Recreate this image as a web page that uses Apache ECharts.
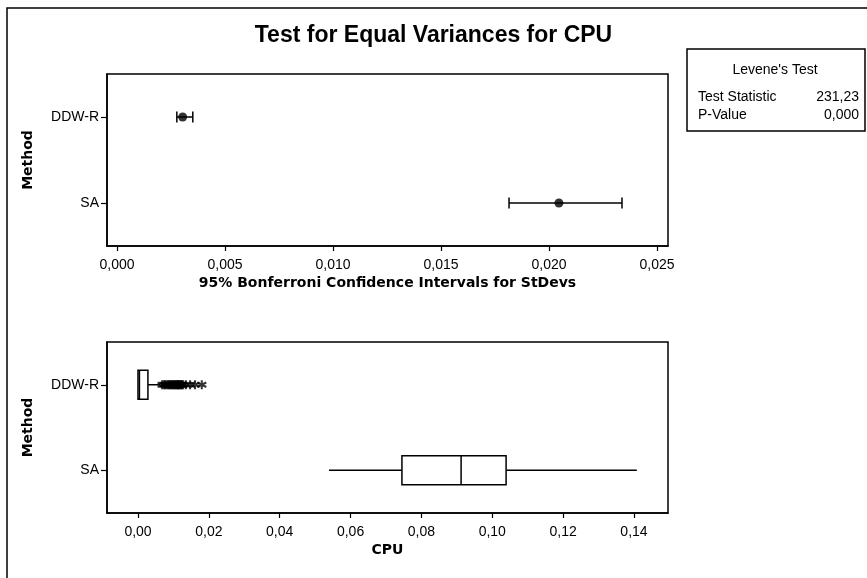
<!DOCTYPE html>
<html>
<head>
<meta charset="utf-8">
<script src="https://cdn.jsdelivr.net/npm/echarts@6/dist/echarts.min.js"></script>
<style>html,body{margin:0;padding:0;background:#fff;}#c{width:867px;height:578px;}</style>
</head>
<body>
<div id="c"></div>
<script>
// ---- data ----
const categories = ['DDW-R', 'SA'];
const ciLower  = [0.00277, 0.01815];
const ciCenter = [0.00304, 0.02046];
const ciUpper  = [0.00351, 0.02338];
// [min, Q1, median, Q3, max]
const boxDDW = [0.0000, 0.0000, 0.0004, 0.0028, 0.0062];
const boxSA  = [0.0539, 0.0745, 0.0912, 0.1039, 0.1408];
const outliersDDW = [0.0068, 0.0073, 0.0076, 0.0080, 0.0084, 0.0087, 0.0090, 0.0093, 0.0096, 0.0099,
  0.0102, 0.0104, 0.0107, 0.0110, 0.0112, 0.0114, 0.0116, 0.0119, 0.0121, 0.0124, 0.0127,
  0.0135, 0.0147, 0.0161, 0.0180];
const ciTicks  = [0, 0.005, 0.010, 0.015, 0.020, 0.025];
const cpuTicks = [0, 0.02, 0.04, 0.06, 0.08, 0.10, 0.12, 0.14];
const leveneStat = '231,23';
const leveneP = '0,000';

const LBL = 'Liberation Sans';
const BOLD = 'DejaVu Sans';

const chart = echarts.init(document.getElementById('c'), null, {renderer: 'canvas'});

function xAxisCfg(gridIndex, min, max, ticks, digits, name) {
  return {
    type: 'value', gridIndex, min, max,
    name, nameLocation: 'middle', nameGap: 30,
    nameTextStyle: {fontFamily: BOLD, fontWeight: 'bold', fontSize: 14, color: '#000'},
    axisLine: {show: true, onZero: false, lineStyle: {color: '#000', width: 1.5}},
    axisTick: {show: true, length: 5, customValues: ticks, lineStyle: {color: '#000', width: 1.2}},
    axisLabel: {customValues: ticks, margin: 12, fontFamily: LBL, fontSize: 14, color: '#000',
      formatter: v => Number(v).toFixed(digits).replace('.', ',')},
    splitLine: {show: false}
  };
}
function yAxisCfg(gridIndex) {
  return {
    type: 'category', gridIndex, data: categories, inverse: true,
    name: 'Method', nameLocation: 'middle', nameGap: 72, nameRotate: 90,
    nameTextStyle: {fontFamily: BOLD, fontWeight: 'bold', fontSize: 14, color: '#000'},
    axisLine: {show: true, onZero: false, lineStyle: {color: '#000', width: 1.5}},
    axisTick: {show: true, alignWithLabel: true, length: 6, lineStyle: {color: '#000', width: 1.2}},
    axisLabel: {margin: 8, fontFamily: LBL, fontSize: 14, color: '#000'},
    splitLine: {show: false}
  };
}

const ciData = categories.map((c, i) => [ciLower[i], ciUpper[i], i]);
const ciDots = categories.map((c, i) => [ciCenter[i], c]);
const boxData = [boxDDW.concat([0]), boxSA.concat([1])];
const outData = outliersDDW.map(v => [v, categories[0]]);

const option = {
  animation: false,
  backgroundColor: '#fff',
  title: {
    text: 'Test for Equal Variances for CPU', left: 'center', top: 19,
    textStyle: {fontFamily: LBL, fontWeight: 'bold', fontSize: 23, color: '#000'}
  },
  grid: [
    {left: 107, top: 74, width: 561, height: 172, show: true, borderColor: '#000', borderWidth: 1.5, containLabel: false},
    {left: 107, top: 342, width: 561, height: 171, show: true, borderColor: '#000', borderWidth: 1.5, containLabel: false}
  ],
  xAxis: [
    xAxisCfg(0, -0.000463, 0.02551, ciTicks, 3, '95% Bonferroni Confidence Intervals for StDevs'),
    xAxisCfg(1, -0.00875, 0.1496, cpuTicks, 2, 'CPU')
  ],
  yAxis: [yAxisCfg(0), yAxisCfg(1)],
  series: [
    {
      type: 'custom', xAxisIndex: 0, yAxisIndex: 0,
      data: ciData, encode: {x: [0, 1], y: 2},
      renderItem: function (params, api) {
        const a = api.coord([api.value(0), api.value(2)]);
        const b = api.coord([api.value(1), api.value(2)]);
        const h = 5.5;
        const st = {stroke: '#000', lineWidth: 1.5};
        return {type: 'group', children: [
          {type: 'line', shape: {x1: a[0], y1: a[1], x2: b[0], y2: b[1]}, style: st},
          {type: 'line', shape: {x1: a[0], y1: a[1] - h, x2: a[0], y2: a[1] + h}, style: st},
          {type: 'line', shape: {x1: b[0], y1: b[1] - h, x2: b[0], y2: b[1] + h}, style: st}
        ]};
      }
    },
    {
      type: 'scatter', xAxisIndex: 0, yAxisIndex: 0, data: ciDots,
      symbol: 'circle', symbolSize: 9, itemStyle: {color: '#000'}
    },
    {
      type: 'custom', xAxisIndex: 1, yAxisIndex: 1,
      data: boxData, encode: {x: [0, 1, 2, 3, 4], y: 5},
      renderItem: function (params, api) {
        const ci = api.value(5);
        const p = [0, 1, 2, 3, 4].map(k => api.coord([api.value(k), ci]));
        const y = p[0][1];
        const h = 14.5;
        const st = {stroke: '#000', lineWidth: 1.5, fill: null};
        return {type: 'group', children: [
          {type: 'line', shape: {x1: p[0][0], y1: y, x2: p[1][0], y2: y}, style: st},
          {type: 'line', shape: {x1: p[3][0], y1: y, x2: p[4][0], y2: y}, style: st},
          {type: 'rect', shape: {x: p[1][0], y: y - h, width: p[3][0] - p[1][0], height: 2 * h}, style: {stroke: '#000', lineWidth: 1.5, fill: '#fff'}},
          {type: 'line', shape: {x1: p[2][0], y1: y - h, x2: p[2][0], y2: y + h}, style: st}
        ]};
      }
    },
    {
      type: 'scatter', xAxisIndex: 1, yAxisIndex: 1, data: outData,
      symbol: 'path://M5,0L5,10M0.7,2.5L9.3,7.5M0.7,7.5L9.3,2.5', symbolSize: 9,
      itemStyle: {color: 'none', borderColor: '#000', borderWidth: 2}
    }
  ],
  graphic: [
    {type: 'rect', shape: {x: 7, y: 8, width: 900, height: 600}, style: {fill: null, stroke: '#000', lineWidth: 1.5}, silent: true},
    {type: 'rect', shape: {x: 687, y: 49, width: 178, height: 82}, style: {fill: '#fff', stroke: '#000', lineWidth: 1.5}},
    {type: 'text', x: 775, y: 70, style: {text: "Levene's Test", fontFamily: LBL, fontSize: 14, fill: '#000', align: 'center', verticalAlign: 'middle'}},
    {type: 'text', x: 698, y: 97, style: {text: 'Test Statistic', fontFamily: LBL, fontSize: 14, fill: '#000', align: 'left', verticalAlign: 'middle'}},
    {type: 'text', x: 859, y: 97, style: {text: leveneStat, fontFamily: LBL, fontSize: 14, fill: '#000', align: 'right', verticalAlign: 'middle'}},
    {type: 'text', x: 698, y: 115, style: {text: 'P-Value', fontFamily: LBL, fontSize: 14, fill: '#000', align: 'left', verticalAlign: 'middle'}},
    {type: 'text', x: 859, y: 115, style: {text: leveneP, fontFamily: LBL, fontSize: 14, fill: '#000', align: 'right', verticalAlign: 'middle'}}
  ]
};
chart.setOption(option);
</script>
</body>
</html>
